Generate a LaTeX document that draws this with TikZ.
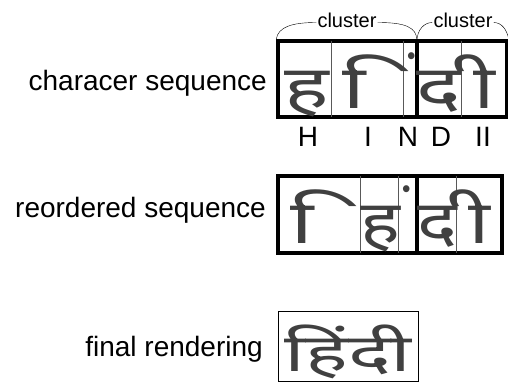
\documentclass[tikz,border=0pt]{standalone}
\usepackage{fontspec}
\setmainfont{Liberation Sans}
\newfontfamily\devaplain{Noto Sans}
\newfontfamily\deva[Script=Devanagari]{Noto Sans}

\tikzset{
  rowlabel/.style={anchor=base east, inner sep=0pt, font=\fontsize{28}{32}\selectfont},
  celllabel/.style={anchor=base, inner sep=0pt, font=\fontsize{28}{32}\selectfont},
  clusterlabel/.style={anchor=base, inner sep=1pt, font=\fontsize{20}{24}\selectfont},
  glyph/.style={anchor=base, inner sep=0pt, text=black!75, font=\devaplain\fontsize{60}{70}\selectfont},
  seqbox/.style={draw, line width=3.5pt, inner sep=0pt},
  cellrule/.style={draw=black!65, line width=1pt},
  clusterrule/.style={line width=3.5pt},
}
\newcommand{\dotmark}{\makebox[12pt][r]{ं}}

\begin{document}
\begin{tikzpicture}[x=1pt, y=-1pt]
\useasboundingbox (0,0) rectangle (508,383);

% row labels
\node[rowlabel] (charlbl) at (267,90) {characer sequence};
\node[rowlabel] (reordlbl) at (266,217) {reordered sequence};
\node[rowlabel] (finallbl) at (263,356) {final rendering};

% character sequence
\node[seqbox, minimum width=229pt, minimum height=76pt] (charbox) at (392.5,79) {};
\draw[cellrule] (331,41) -- (331,117);
\draw[cellrule] (403,41) -- (403,117);
\draw[clusterrule] (417,41) -- (417,117);
\draw[cellrule] (461,41) -- (461,117);
\node[glyph, xscale=1.4] (charH) at (307,108) {ह};
\node[glyph, xscale=1.5] (charI) at (354,108) {ि};
\node[glyph] (charN) at (413,102) {\dotmark};
\node[glyph, xscale=1.4] (charD) at (439,108) {द};
\node[glyph, xscale=1.4] (charII) at (484,108) {ी};

% letters under the cells
\node[celllabel] (letH) at (308,146) {H};
\node[celllabel] (letI) at (368,146) {I};
\node[celllabel] (letN) at (408,146) {N};
\node[celllabel] (letD) at (441,146) {D};
\node[celllabel] (letII) at (483,146) {II};

% clusters
\node[clusterlabel] (clusterA) at (347,27) {cluster};
\node[clusterlabel] (clusterB) at (463,27) {cluster};
\draw (charbox.north west) .. controls (278,27) and (292,22.5) .. ([yshift=4.5pt]clusterA.base west);
\draw ([yshift=4.5pt]clusterA.base east) .. controls (405,22.5) and (417,27) .. (417,41);
\draw (417,41) .. controls (417,30) and (424,22.5) .. ([yshift=4.5pt]clusterB.base west);
\draw ([yshift=4.5pt]clusterB.base east) .. controls (502,22.5) and (507,30) .. (charbox.north east);

% reordered sequence
\node[seqbox, minimum width=224pt, minimum height=77pt] (reordbox) at (390,214.5) {};
\draw[cellrule] (360,176) -- (360,253);
\draw[cellrule] (398,176) -- (398,253);
\draw[clusterrule] (417,176) -- (417,253);
\draw[cellrule] (456,176) -- (456,253);
\node[glyph, xscale=1.5] (reordI) at (302,243) {ि};
\node[glyph, xscale=1.25] (reordH) at (380,243) {ह};
\node[glyph] (reordN) at (408,235) {\dotmark};
\node[glyph, xscale=1.25] (reordD) at (437,243) {द};
\node[glyph, xscale=1.4] (reordII) at (479,243) {ी};

% final rendering
\node[draw, line width=1pt, inner sep=0pt, minimum width=140pt, minimum height=70pt] (finalbox) at (348,346) {};
\node[glyph, xscale=1.55, font=\deva\fontsize{52}{62}\selectfont] (finalword) at (348,371) {हिंदी};

\end{tikzpicture}
\end{document}
